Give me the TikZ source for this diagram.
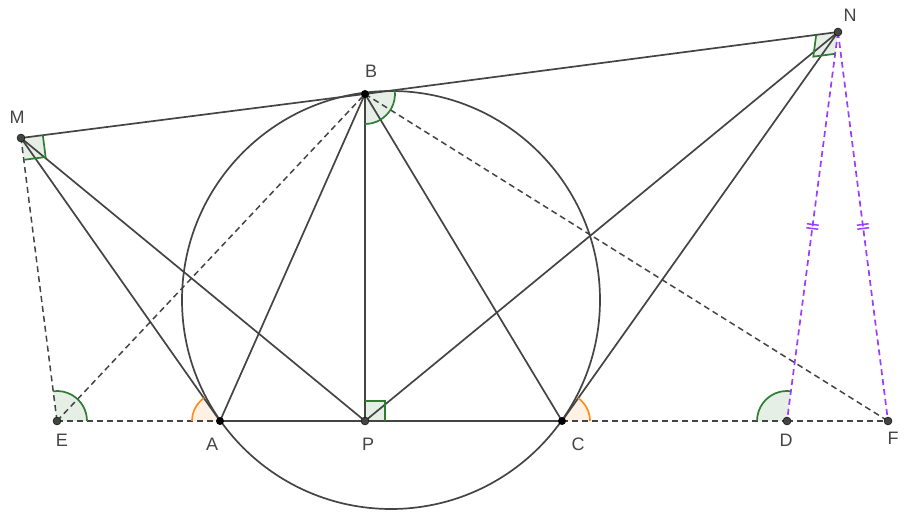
\documentclass[tikz,border=0pt]{standalone}
\usepackage{fontspec}
\setmainfont{Liberation Sans}
\usetikzlibrary{calc,decorations.markings}
\definecolor{ln}{HTML}{444444}
\definecolor{gr}{HTML}{2E7D32}
\definecolor{org}{HTML}{FF8C1A}
\definecolor{pur}{HTML}{9B3DFF}
\tikzset{
  seg/.style={ln, line width=1.7pt},
  dseg/.style={ln, line width=1.5pt, dash pattern=on 6pt off 4pt},
  pseg/.style={pur, line width=1.7pt, dash pattern=on 6pt off 4pt,
    postaction={decorate, decoration={markings, mark=at position 0.5 with {
      \draw[pur, line width=1.5pt, solid] (-2pt,-6pt)--(-2pt,6pt) (2pt,-6pt)--(2pt,6pt);}}}},
  pt/.style={circle, fill=ln, draw=black, inner sep=0pt, minimum size=8pt},
  bpt/.style={circle, fill=black, inner sep=0pt, minimum size=8pt},
  lab/.style={text=ln, font=\fontsize{18}{18}\selectfont},
  gfill/.style={fill=gr!12},
  gline/.style={gr, line width=1.7pt},
  ofill/.style={fill=org!12},
  oline/.style={org, line width=1.7pt},
}
\begin{document}
\begin{tikzpicture}[x=1pt,y=1pt]
\useasboundingbox (0,0) rectangle (904,519);
\coordinate (M) at (21,381);
\coordinate (B) at (365,425);
\coordinate (N) at (838,487);
\coordinate (E) at (57,98);
\coordinate (A) at (220,98);
\coordinate (P) at (365,98);
\coordinate (C) at (562,98);
\coordinate (D) at (787,98);
\coordinate (F) at (888,98);
\coordinate (O) at (391,219);
% angle fills
\fill[gfill] (E) -- ++(0:30) arc (0:97.2:30) -- cycle;
\fill[ofill] (A) -- ++(125:28) arc (125:180:28) -- cycle;
\fill[ofill] (C) -- ++(0:28) arc (0:54.6:28) -- cycle;
\fill[gfill] (D) -- ++(82.5:30) arc (82.5:180:30) -- cycle;
\fill[gfill] (B) -- ++(-90:30) arc (-90:7.5:30) -- cycle;
\fill[gfill] (M) -- ($(M)+(7.3:22)$) -- ($(M)+(7.3:22)+(-82.7:22)$) -- ($(M)+(-82.7:22)$) -- cycle;
\fill[gfill] (N) -- ($(N)+(187.4:22)$) -- ($(N)+(187.4:22)+(262.5:22)$) -- ($(N)+(262.5:22)$) -- cycle;
\fill[gfill] (P) -- ($(P)+(0:20)$) -- ($(P)+(20,20)$) -- ($(P)+(90:20)$) -- cycle;
% circle
\draw[seg] (O) circle (209);
% dashed
\draw[dseg] (E) -- (A);
\draw[dseg] (C) -- (D);
\draw[dseg] (D) -- (F);
\draw[dseg] (E) -- (M);
\draw[dseg] (E) -- (B);
\draw[dseg] (B) -- (F);
\draw[pseg] (N) -- (D);
\draw[pseg] (N) -- (F);
% solid
\draw[seg] (M) -- (B);
\draw[seg] (B) -- (N);
\draw[seg] (M) -- (A);
\draw[seg] (M) -- (P);
\draw[seg] (N) -- (P);
\draw[seg] (N) -- (C);
\draw[seg] (B) -- (A);
\draw[seg] (B) -- (C);
\draw[seg] (B) -- (P);
\draw[seg] (A) -- (C);
% angle outlines
\draw[gline] ($(E)+(0:30)$) arc (0:97.2:30);
\draw[oline] ($(A)+(125:28)$) arc (125:180:28);
\draw[oline] ($(C)+(0:28)$) arc (0:54.6:28);
\draw[gline] ($(D)+(82.5:30)$) arc (82.5:180:30);
\draw[gline] ($(B)+(-90:30)$) arc (-90:7.5:30);
\draw[gline] ($(M)+(7.3:22)$) -- ($(M)+(7.3:22)+(-82.7:22)$) -- ($(M)+(-82.7:22)$);
\draw[gline] ($(N)+(187.4:22)$) -- ($(N)+(187.4:22)+(262.5:22)$) -- ($(N)+(262.5:22)$);
\draw[gline] ($(P)+(0:20)$) -- ($(P)+(20,20)$) -- ($(P)+(90:20)$);
% points
\node[pt] (pM) at (M) {};
\node[bpt] (pB) at (B) {};
\node[pt] (pN) at (N) {};
\node[pt] (pE) at (E) {};
\node[bpt] (pA) at (A) {};
\node[pt] (pP) at (P) {};
\node[bpt] (pC) at (C) {};
\node[pt] (pD) at (D) {};
\node[pt] (pF) at (F) {};
% labels
\node[lab] (lM) at (17,402) {M};
\node[lab] (lB) at (371,448) {B};
\node[lab] (lN) at (850,504) {N};
\node[lab] (lE) at (62,79) {E};
\node[lab] (lA) at (212,75) {A};
\node[lab] (lP) at (368,75) {P};
\node[lab] (lC) at (578,75) {C};
\node[lab] (lD) at (786,79) {D};
\node[lab] (lF) at (893,81) {F};
\end{tikzpicture}
\end{document}
